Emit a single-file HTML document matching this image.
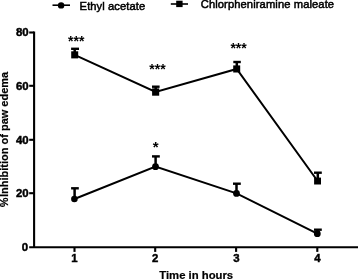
<!DOCTYPE html>
<html><head><meta charset="utf-8">
<style>
html,body{margin:0;padding:0;background:#fff;width:358px;height:279px;overflow:hidden}
svg{display:block;font-family:"Liberation Sans",sans-serif;will-change:transform}
</style></head><body>
<svg width="358" height="279" viewBox="0 0 358 279">
<rect width="358" height="279" fill="#fff"/>
<!-- legend -->
<line x1="52.5" y1="5.2" x2="70" y2="5.2" stroke="#000" stroke-width="1.6"/>
<circle cx="61.1" cy="5.4" r="3.2" fill="#000"/>
<text x="79.6" y="9.5" font-size="11.2" stroke="#000" stroke-width="0.5" textLength="65.6">Ethyl acetate</text>
<line x1="170.8" y1="4" x2="188" y2="4" stroke="#000" stroke-width="1.6"/>
<rect x="176.2" y="0.7" width="6.4" height="6.4" fill="#000"/>
<text x="200.7" y="8.1" font-size="11.2" stroke="#000" stroke-width="0.5" textLength="133.4">Chlorpheniramine maleate</text>

<!-- axes -->
<g stroke="#000" stroke-width="2.1" fill="none">
<line x1="34.1" y1="31.5" x2="34.1" y2="248"/>
<line x1="29.2" y1="247.3" x2="358" y2="247.3"/>
<line x1="29.2" y1="32.5" x2="34" y2="32.5"/>
<line x1="29.2" y1="85.8" x2="34" y2="85.8"/>
<line x1="29.2" y1="139.8" x2="34" y2="139.8"/>
<line x1="29.2" y1="193.2" x2="34" y2="193.2"/>
<line x1="74.5" y1="247.3" x2="74.5" y2="251.9"/>
<line x1="155.2" y1="247.3" x2="155.2" y2="251.9"/>
<line x1="236.1" y1="247.3" x2="236.1" y2="251.9"/>
<line x1="317.3" y1="247.3" x2="317.3" y2="251.9"/>
</g>
<g font-size="11.4" font-weight="bold" text-anchor="end" stroke="#000" stroke-width="0.45">
<text x="28.6" y="36.2">80</text>
<text x="28.6" y="89.6">60</text>
<text x="28.6" y="143.6">40</text>
<text x="28.6" y="197">20</text>
<text x="28.2" y="251.2">0</text>
</g>
<g font-size="11.4" font-weight="bold" text-anchor="middle" stroke="#000" stroke-width="0.45">
<text x="74.3" y="262.2">1</text>
<text x="155.2" y="262.2">2</text>
<text x="236.4" y="262.2">3</text>
<text x="317.3" y="262.2">4</text>
</g>
<text x="196.2" y="278.6" font-size="11.3" font-weight="bold" text-anchor="middle" stroke="#000" stroke-width="0.2">Time in hours</text>
<text transform="translate(8.3,207.3) rotate(-90)" font-size="11" font-weight="bold" stroke="#000" stroke-width="0.2">%<tspan dx="-2.6"> Inhibition of paw edema</tspan></text>

<!-- lines -->
<polyline points="74.6,54.9 155.6,92 236.7,69 317.6,181" fill="none" stroke="#000" stroke-width="2"/>
<polyline points="74.4,199 155.5,166.6 236.5,193.4 317.3,233.7" fill="none" stroke="#000" stroke-width="2"/>

<!-- error bars -->
<g stroke="#000" fill="none">
<g stroke-width="2.5">
<line x1="74.7" y1="48.8" x2="74.7" y2="55"/>
<line x1="155.7" y1="86.3" x2="155.7" y2="92"/>
<line x1="236.8" y1="62" x2="236.8" y2="69"/>
<line x1="317.8" y1="172.7" x2="317.8" y2="181"/>
<line x1="74.6" y1="188" x2="74.6" y2="199"/>
<line x1="155.6" y1="156.4" x2="155.6" y2="166.6"/>
<line x1="236.5" y1="183.7" x2="236.5" y2="193.5"/>
<line x1="317.4" y1="229.7" x2="317.4" y2="233.7"/>
</g>
<g stroke-width="2.4">
<line x1="71.1" y1="48.8" x2="79" y2="48.8"/>
<line x1="152" y1="86.7" x2="159.6" y2="86.7"/>
<line x1="233.3" y1="62" x2="240.8" y2="62"/>
<line x1="314" y1="172.7" x2="321.8" y2="172.7"/>
<line x1="71.1" y1="188.3" x2="78.8" y2="188.3"/>
<line x1="152" y1="156.4" x2="159.8" y2="156.4"/>
<line x1="233" y1="183.7" x2="240.8" y2="183.7"/>
<line x1="314" y1="229.7" x2="321.8" y2="229.7"/>
</g>
</g>

<!-- markers -->
<g fill="#000">
<rect x="71.2" y="51.3" width="7" height="7.1"/>
<rect x="152.1" y="88.4" width="7.1" height="7.3"/>
<rect x="233.2" y="65.4" width="7" height="7.1"/>
<rect x="314.1" y="177.6" width="6.9" height="6.9"/>
<circle cx="74.4" cy="199" r="3.3"/>
<circle cx="155.5" cy="166.7" r="3.4"/>
<circle cx="236.5" cy="193.4" r="3.4"/>
<circle cx="317.3" cy="233.7" r="3.4"/>
</g>

<!-- significance -->
<g font-size="14" font-weight="bold" text-anchor="middle">
<text x="76.3" y="46">***</text>
<text x="157.5" y="73.5">***</text>
<text x="238.6" y="52.5">***</text>
<text x="155.7" y="152" font-size="15">*</text>
</g>
</svg>
</body></html>
